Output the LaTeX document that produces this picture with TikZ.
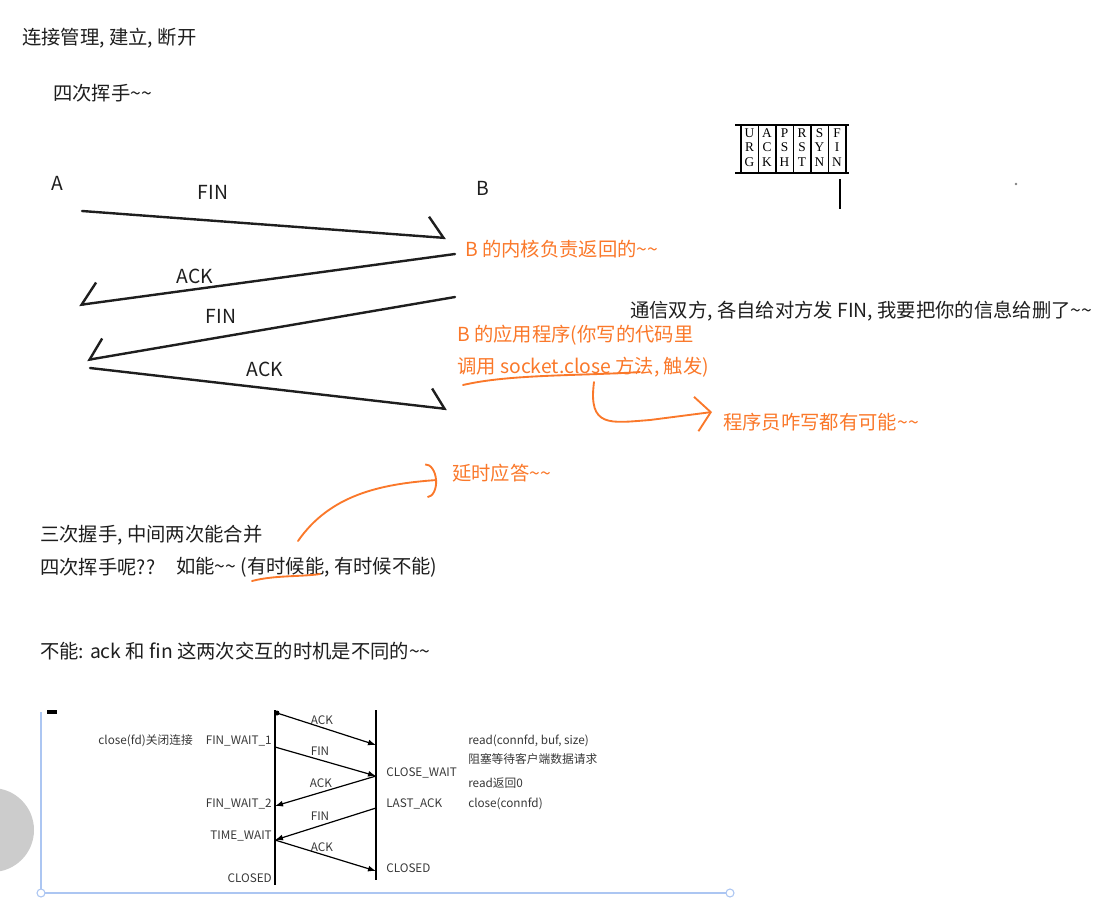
\documentclass[tikz,border=0pt]{standalone}
\usepackage{fontspec}
\setmainfont{Noto Sans CJK SC}
\newfontfamily\flagfont{Liberation Serif}
\usetikzlibrary{arrows.meta, calc}
\definecolor{noteInk}{RGB}{30, 30, 30}
\definecolor{noteOrange}{RGB}{250, 120, 42}
\definecolor{shotInk}{RGB}{55, 55, 55}
\definecolor{shotFrame}{RGB}{172, 198, 242}
\definecolor{shotGray}{RGB}{204, 204, 204}
\newcommand{\tld}{\textasciitilde}

\begin{document}
\begin{tikzpicture}[
    x=0.75pt, y=-0.75pt,
    font=\fontsize{14.5}{16}\selectfont,
    txt/.style={
        anchor=west,
        inner sep=0pt,
        text=noteInk
    },
    hint/.style={
        anchor=west,
        inner sep=0pt,
        text=noteOrange
    },
    lbl/.style={
        inner sep=0pt,
        text=noteInk
    },
    hand/.style={
        draw=noteInk,
        line width=1.8pt,
        line cap=round,
        line join=round
    },
    pen/.style={
        draw=noteOrange,
        line width=1.4pt,
        line cap=round,
        line join=round
    },
    flag/.style={
        inner sep=0pt,
        font=\flagfont\fontsize{10}{10}\selectfont
    },
    state/.style={
        inner sep=0pt,
        text=shotInk,
        font=\fontsize{8.8}{10}\selectfont
    },
    seq/.style={
        draw=black,
        line width=0.9pt,
        -{Latex[length=6pt, width=4.5pt]}
    }
]
\useasboundingbox (0,0) rectangle (1096,900);

% 1. Heading notes
\node[txt] (title) at (22,38) {连接管理, 建立, 断开};
\node[txt] (wave) at (53,93) {四次挥手\tld\tld};

% 2. Hand-drawn four-way wave between A and B
\node[lbl] (hostA) at (57,183) {A};
\node[lbl] (hostB) at (483,188) {B};

\coordinate (finAout) at (82,211);
\coordinate (finBin) at (446,238);
\coordinate (ackBout) at (455,254);
\coordinate (ackAin) at (79,305);
\coordinate (finBout) at (455,297);
\coordinate (finAin) at (87,360);
\coordinate (ackAout) at (90,368);
\coordinate (ackBin) at (447,409);

\draw[hand, -{Straight Barb[harpoon, length=12pt, width=30pt]}] (finAout) -- (finBin);
\draw[hand, -{Straight Barb[harpoon, swap, length=13pt, width=30pt]}] (ackBout) -- (ackAin);
\draw[hand, -{Straight Barb[harpoon, swap, length=12pt, width=28pt]}] (finBout) -- (finAin);
\draw[hand, -{Straight Barb[harpoon, length=11pt, width=28pt]}] (ackAout) -- (ackBin);

\node[lbl] (finOne) at (213,192) {FIN};
\node[lbl] (ackOne) at (195,276) {ACK};
\node[lbl] (finTwo) at (221,316) {FIN};
\node[lbl] (ackTwo) at (265,369) {ACK};

% 3. Orange remarks
\node[hint] (kernel) at (465,249) {B 的内核负责返回的\tld\tld};
\node[hint] (appOne) at (457,335) {B 的应用程序(你写的代码里};
\node[hint] (appTwo) at (457,367) {调用 socket.close 方法, 触发)};
\node[hint] (anyway) at (723,422) {程序员咋写都有可能\tld\tld};
\node[hint] (delay) at (452,473) {延时应答\tld\tld};
\node[txt] (both) at (630,311) {通信双方, 各自给对方发 FIN, 我要把你的信息给删了\tld\tld};

\coordinate (lineL) at (463,385);
\coordinate (lineR) at (640,372);
\draw[pen] (lineL) .. controls (510,374) and (580,376) .. (lineR);

\coordinate (hookTop) at (594,382);
\coordinate (hookEnd) at (712,412);
\draw[pen, -{Straight Barb[length=11pt, width=26pt]}] (hookTop) .. controls (588,428) and (610,423) .. (650,420) -- (hookEnd);

% 4. Can the middle two be merged?
\node[txt] (three) at (40,535) {三次握手, 中间两次能合并};
\node[txt] (four) at (40,567) {四次挥手呢??};
\node[txt] (maybe) at (176,567) {如能\tld\tld\ (有时候能, 有时候不能)};
\node[txt] (cannot) at (40,651) {不能: ack 和 fin 这两次交互的时机是不同的\tld\tld};

\coordinate (someL) at (252,581);
\coordinate (someR) at (320,574);
\draw[pen] (someL) .. controls (275,575) and (300,577) .. (someR);

\coordinate (delayFrom) at (298,541);
\coordinate (delayTo) at (437,480);
\draw[pen, -{Arc Barb[length=8pt, width=26pt]}] (delayFrom) .. controls (330,495) and (380,484) .. (delayTo);

% 5. TCP flag bits
\foreach \k in {0,...,6}
    \draw[line width=0.8pt] (741+\k*17.5,125) -- (741+\k*17.5,173);
\draw[line width=0.8pt] (735,125) -- (849,125);
\draw[line width=0.8pt] (735,173) -- (849,173);
\foreach \a/\b/\c [count=\i] in {U/R/G, A/C/K, P/S/H, R/S/T, S/Y/N, F/I/N} {
    \node[flag] (flag\i a) at (732+\i*17.5,133) {\a};
    \node[flag] (flag\i b) at (732+\i*17.5,147.5) {\b};
    \node[flag] (flag\i c) at (732+\i*17.5,162) {\c};
}
\draw[line width=1.5pt] (840,179) -- (840,209);
\fill[gray] (1016,184) circle (1pt);

% 6. Screenshot of the close sequence
\begin{scope}
    \clip (0,0) rectangle (1096,900);
    \fill[shotGray] (-8,830) circle (42);
\end{scope}
\draw[shotFrame, line width=1.2pt] (41,712) -- (41,893) -- (730,893);
\draw[shotFrame, line width=0.8pt, fill=white] (41,893) circle (4);
\draw[shotFrame, line width=0.8pt, fill=white] (730,893) circle (4);
\draw[line width=2.5pt] (47,712) -- (57,712);

\coordinate (cliTop) at (275,710);
\coordinate (cliBot) at (275,885);
\coordinate (srvTop) at (376,710);
\coordinate (srvBot) at (376,880);
\draw[line width=1.3pt] (cliTop) -- (cliBot);
\draw[line width=1.3pt] (srvTop) -- (srvBot);

\coordinate (cli0) at (277,713);
\coordinate (cli1) at (275,747);
\coordinate (cli2) at (275,806);
\coordinate (cli3) at (275,840);
\coordinate (srv1) at (376,745);
\coordinate (srv2) at (376,776);
\coordinate (srv3) at (376,808);
\coordinate (srv4) at (376,871);
\fill (cli0) circle (2.5);
\draw[seq] (cli0) -- (srv1);
\draw[seq] (cli1) -- (srv2);
\draw[seq] (srv2) -- (cli2);
\draw[seq] (srv3) -- (cli3);
\draw[seq] (cli3) -- (srv4);

\node[state] (m1) at (322,720) {ACK};
\node[state] (m2) at (320,751) {FIN};
\node[state] (m3) at (321,783) {ACK};
\node[state] (m4) at (320,816) {FIN};
\node[state] (m5) at (322,847) {ACK};

\node[state, anchor=east] (closeFd) at (193,741) {close(fd)关闭连接};
\node[state, anchor=east] (fw1) at (272,741) {FIN\_WAIT\_1};
\node[state, anchor=east] (fw2) at (272,804) {FIN\_WAIT\_2};
\node[state, anchor=east] (tw) at (272,836) {TIME\_WAIT};
\node[state, anchor=east] (cliClosed) at (272,878) {CLOSED};
\node[state, anchor=west] (cw) at (386,773) {CLOSE\_WAIT};
\node[state, anchor=west] (la) at (386,804) {LAST\_ACK};
\node[state, anchor=west] (srvClosed) at (386,868) {CLOSED};

\node[state, anchor=west] (rd) at (468,741) {read(connfd, buf, size)};
\node[state, anchor=west] (blk) at (468,759) {阻塞等待客户端数据请求};
\node[state, anchor=west] (rd0) at (468,783) {read返回0};
\node[state, anchor=west] (cc) at (468,804) {close(connfd)};

\end{tikzpicture}
\end{document}
